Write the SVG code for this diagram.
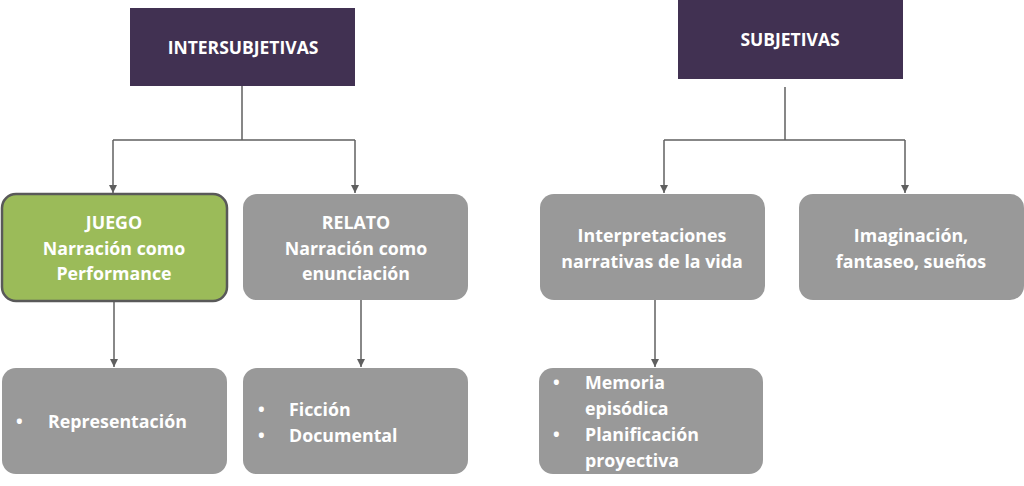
<svg xmlns="http://www.w3.org/2000/svg" width="1024" height="486" viewBox="0 0 1024 486">
<defs>
<marker id="ah" viewBox="0 0 10 10" refX="10" refY="5" markerWidth="8" markerHeight="8" markerUnits="userSpaceOnUse" orient="auto">
<path d="M0,0 L10,5 L0,10 z" fill="#5f5f5f"/>
</marker>
<style>
.top{fill:#413152}
.gray{fill:#999999}
.green{fill:#9bbb59;stroke:#595959;stroke-width:2.5}
text{font-family:"Open Sans","Liberation Sans",sans-serif;font-weight:700;fill:#ffffff}
.t1{font-size:17.5px;text-anchor:middle}
.t2{font-size:17.8px;text-anchor:middle}
.t3{font-size:17.8px}
.conn{fill:none;stroke:#606060;stroke-width:1.5}
</style>
</defs>
<rect width="1024" height="486" fill="#ffffff"/>
<g id="connectors">
<path class="conn" d="M242,86 V140 M113,140 H355"/>
<path class="conn" d="M113,140 V193" marker-end="url(#ah)"/>
<path class="conn" d="M355,140 V193" marker-end="url(#ah)"/>
<path class="conn" d="M785,87 V140 M664,140 H905"/>
<path class="conn" d="M664,140 V193" marker-end="url(#ah)"/>
<path class="conn" d="M905,140 V193" marker-end="url(#ah)"/>
<path class="conn" d="M114,302 V367" marker-end="url(#ah)"/>
<path class="conn" d="M361,300 V367" marker-end="url(#ah)"/>
<path class="conn" d="M655,300 V367" marker-end="url(#ah)"/>
</g>
<g id="intersubjetivas">
<rect class="top" x="130" y="8" width="225" height="78"/>
<text class="t1" x="243" y="54">INTERSUBJETIVAS</text>
</g>
<g id="subjetivas">
<rect class="top" x="678" y="0" width="225" height="79"/>
<text class="t1" x="790" y="46">SUBJETIVAS</text>
</g>
<g id="juego">
<rect class="green" x="2" y="194" width="225" height="107" rx="14"/>
<text class="t2" x="114" y="229">JUEGO</text>
<text class="t2" x="114" y="255">Narración como</text>
<text class="t2" x="114" y="280">Performance</text>
</g>
<g id="relato">
<rect class="gray" x="243" y="194" width="225" height="106" rx="14"/>
<text class="t2" x="356" y="229">RELATO</text>
<text class="t2" x="356" y="255">Narración como</text>
<text class="t2" x="356" y="280">enunciación</text>
</g>
<g id="interpretaciones">
<rect class="gray" x="540" y="194" width="225" height="106" rx="14"/>
<text class="t2" x="652" y="242">Interpretaciones</text>
<text class="t2" x="652" y="268">narrativas de la vida</text>
</g>
<g id="imaginacion">
<rect class="gray" x="799" y="194" width="225" height="106" rx="14"/>
<text class="t2" x="911" y="242">Imaginación,</text>
<text class="t2" x="911" y="268">fantaseo, sueños</text>
</g>
<g id="representacion">
<rect class="gray" x="2" y="368" width="225" height="106" rx="14"/>
<text class="t3" x="16" y="428">•</text>
<text class="t3" x="48" y="428">Representación</text>
</g>
<g id="ficcion">
<rect class="gray" x="243" y="368" width="225" height="106" rx="14"/>
<text class="t3" x="258" y="416">•</text>
<text class="t3" x="289" y="416">Ficción</text>
<text class="t3" x="258" y="442">•</text>
<text class="t3" x="289" y="442">Documental</text>
</g>
<g id="memoria">
<rect class="gray" x="539" y="368" width="224" height="106" rx="14"/>
<text class="t3" x="553" y="389">•</text>
<text class="t3" x="585" y="389">Memoria</text>
<text class="t3" x="585" y="415">episódica</text>
<text class="t3" x="553" y="441">•</text>
<text class="t3" x="585" y="441">Planificación</text>
<text class="t3" x="585" y="467">proyectiva</text>
</g>
</svg>
